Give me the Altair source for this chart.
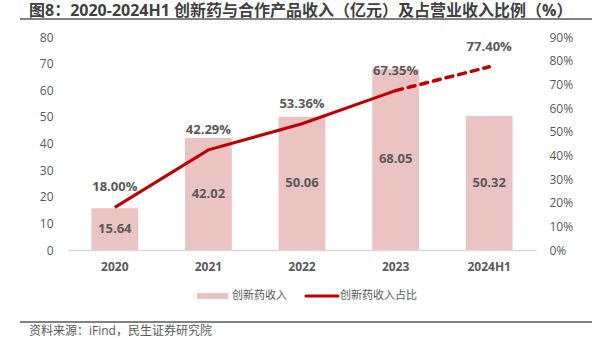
import altair as alt
import pandas as pd

years = ["2020", "2021", "2022", "2023", "2024H1"]
revenue = [15.64, 42.02, 50.06, 68.05, 50.32]
ratio = [18.00, 42.29, 53.36, 67.35, 77.40]

title_text = "图8：2020-2024H1 创新药与合作产品收入（亿元）及占营业收入比例（%）"
source_text = "资料来源：iFind，民生证券研究院"
legend_bar = "创新药收入"
legend_line = "创新药收入占比"

df = pd.DataFrame({
    "year": years,
    "revenue": revenue,
    "ratio": [r / 100 for r in ratio],
    "idx": list(range(len(years))),
    "rev_label": [f"{v:.2f}" for v in revenue],
    "ratio_label": [f"{v:.2f}%" for v in ratio],
})

FONT = "Open Sans, Noto Sans CJK SC"
GREY = "#595959"
BAR = "#EBC3C3"
RED = "#C00000"

x = alt.X("year:N", sort=years,
          scale=alt.Scale(paddingInner=0.5, paddingOuter=0.25),
          axis=alt.Axis(title=None, labelAngle=0, domainColor="#D9D9D9", domainWidth=1.5,
                        ticks=False, labelFont=FONT, labelFontSize=12, labelFontWeight="bold",
                        labelColor=GREY, labelPadding=11, grid=False))

left_axis = alt.Axis(title=None, values=list(range(0, 81, 10)), domain=False, ticks=False,
                     grid=False, labelPadding=15, labelFont=FONT, labelFontSize=12,
                     labelColor=GREY)
right_axis = alt.Axis(title=None, orient="right", values=[i / 10 for i in range(10)],
                      format=".0%", domain=False, ticks=False, grid=False, labelPadding=13,
                      labelFont=FONT, labelFontSize=12, labelColor=GREY)

yL_scale = alt.Scale(domain=[0, 80])
yR_scale = alt.Scale(domain=[0, 0.9])

base = alt.Chart(df)

bars = base.mark_bar(color=BAR).encode(
    x=x,
    y=alt.Y("revenue:Q", scale=yL_scale, axis=left_axis, title=None),
)
bar_text = base.transform_calculate(mid="datum.revenue / 2").mark_text(
    font=FONT, fontSize=13, fontWeight="bold", color=GREY, baseline="middle"
).encode(
    x=x,
    y=alt.Y("mid:Q", scale=yL_scale, axis=left_axis, title=None),
    text="rev_label:N",
)
left = alt.layer(bars, bar_text)

yR = alt.Y("ratio:Q", scale=yR_scale, axis=right_axis, title=None)
line_solid = base.transform_filter("datum.idx <= 3").mark_line(
    color=RED, strokeWidth=3
).encode(x=x, y=yR)
line_dash = base.transform_filter("datum.idx >= 3").mark_line(
    color=RED, strokeWidth=3.5, strokeDash=[7, 6], strokeCap="round"
).encode(x=x, y=yR)
pct_text = base.mark_text(
    font=FONT, fontSize=13, fontWeight="bold", color=GREY, dy=-20, baseline="middle"
).encode(
    x=x,
    y=yR,
    text="ratio_label:N",
)
right = alt.layer(line_solid, line_dash, pct_text)

dummy = alt.Chart(pd.DataFrame({"a": [0]}))

title = dummy.mark_text(text=title_text, font=FONT, fontSize=16, fontWeight="bold",
                        color="#404040", align="left", baseline="middle").encode(
    x=alt.value(-39), y=alt.value(-26))
title_rule = dummy.mark_rule(color="#595959", strokeWidth=1.5).encode(
    x=alt.value(-48), x2=alt.value(524), y=alt.value(-18))
src_rule = dummy.mark_rule(color="#595959", strokeWidth=1.5).encode(
    x=alt.value(-48), x2=alt.value(524), y=alt.value(285))
src = dummy.mark_text(text=source_text, font=FONT, fontSize=12, color=GREY,
                      align="left", baseline="middle").encode(
    x=alt.value(-39), y=alt.value(294))
leg_rect = dummy.mark_rect(color=BAR).encode(
    x=alt.value(129), x2=alt.value(160), y=alt.value(256), y2=alt.value(262))
leg_t1 = dummy.mark_text(text=legend_bar, font=FONT, fontSize=11, color=GREY,
                         align="left", baseline="middle").encode(
    x=alt.value(164), y=alt.value(259))
leg_line = dummy.mark_rule(color=RED, strokeWidth=3, strokeCap="round").encode(
    x=alt.value(238), x2=alt.value(270), y=alt.value(259))
leg_t2 = dummy.mark_text(text=legend_line, font=FONT, fontSize=11, color=GREY,
                         align="left", baseline="middle").encode(
    x=alt.value(272), y=alt.value(259))

chart = alt.layer(
    left, right, title, title_rule, src_rule, src, leg_rect, leg_t1, leg_line, leg_t2
).resolve_scale(y="independent").properties(
    width=468, height=213,
    autosize=alt.AutoSizeParams(type="none"),
    padding={"left": 68, "top": 37, "right": 65, "bottom": 88},
    background="white",
).configure_view(stroke=None)

chart.save("out.html", embed_options={"renderer": "svg", "actions": False})
